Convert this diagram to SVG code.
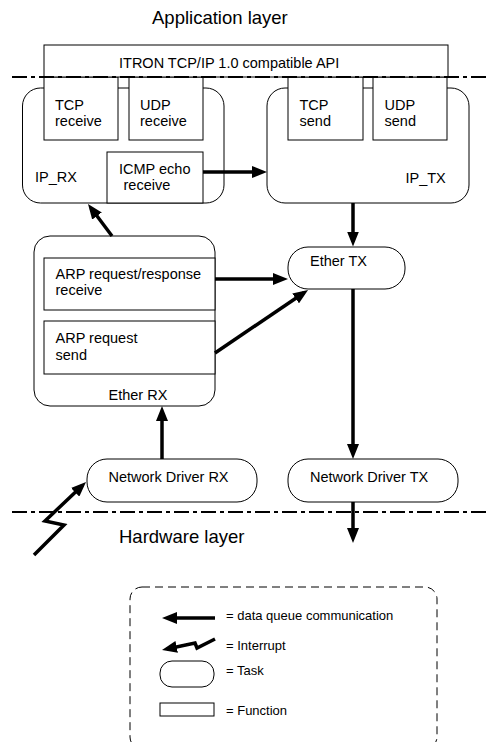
<svg xmlns="http://www.w3.org/2000/svg" width="489" height="742" viewBox="0 0 489 742">
<defs>
<style>
text{font-family:"Liberation Sans",Arial,sans-serif;fill:#000}
.n{font-size:14.5px}
.big{font-size:18.5px}
.lg{font-size:13px}
.box{fill:#fff;stroke:#000;stroke-width:1}
.task{fill:#fff;stroke:#000;stroke-width:1}
.arr{fill:none;stroke:#000;stroke-width:3.5;stroke-linejoin:miter;marker-end:url(#ah)}
.layer{fill:none;stroke:#000;stroke-width:2;stroke-dasharray:15 4 4 4}
.legend{fill:none;stroke:#000;stroke-width:1;stroke-dasharray:8 5}
</style>
<marker id="ah" markerUnits="userSpaceOnUse" markerWidth="15" markerHeight="12" refX="10" refY="6" orient="auto"><path d="M0,0 L15,6 L0,12 z" fill="#000"/></marker>
</defs>
<rect width="489" height="742" fill="#fff"/>
<text class="big" x="152" y="24">Application layer</text>

<g id="ip_rx">
<rect class="task" x="22.5" y="88" width="201.5" height="115" rx="18"/>
<text class="n" x="35" y="182">IP_RX</text>
</g>
<g id="tcp_receive">
<rect class="box" x="44" y="77" width="74" height="63"/>
<text class="n" x="55" y="109.5">TCP</text>
<text class="n" x="55" y="126">receive</text>
</g>
<g id="udp_receive">
<rect class="box" x="129" y="77" width="74" height="63"/>
<text class="n" x="140" y="109.5">UDP</text>
<text class="n" x="140" y="126">receive</text>
</g>
<g id="icmp_echo_receive">
<rect class="box" x="107" y="152" width="96" height="51"/>
<text class="n" x="119" y="173.5">ICMP echo</text>
<text class="n" x="123.5" y="190">receive</text>
</g>

<g id="ip_tx">
<rect class="task" x="267" y="88" width="202" height="115" rx="18"/>
<text class="n" x="405.5" y="182.5">IP_TX</text>
</g>
<g id="tcp_send">
<rect class="box" x="288" y="77" width="75" height="63"/>
<text class="n" x="299.5" y="109.5">TCP</text>
<text class="n" x="299.5" y="126">send</text>
</g>
<g id="udp_send">
<rect class="box" x="373" y="77" width="74" height="63"/>
<text class="n" x="384.5" y="109.5">UDP</text>
<text class="n" x="384.5" y="126">send</text>
</g>

<g id="api">
<rect class="box" x="44" y="45" width="404" height="32"/>
<text class="n" x="119" y="67.5">ITRON TCP/IP 1.0 compatible API</text>
</g>

<g id="ether_rx">
<rect class="task" x="34" y="236" width="181" height="170" rx="16"/>
<text class="n" x="108.5" y="399.5">Ether RX</text>
</g>
<g id="arp_receive">
<rect class="box" x="44" y="258" width="171" height="52"/>
<text class="n" x="55.5" y="278.5">ARP request/response</text>
<text class="n" x="55.5" y="295">receive</text>
</g>
<g id="arp_send">
<rect class="box" x="44" y="321" width="171" height="53"/>
<text class="n" x="55.5" y="343">ARP request</text>
<text class="n" x="55.5" y="360">send</text>
</g>

<g id="ether_tx">
<rect class="task" x="288" y="247" width="117" height="42" rx="20"/>
<text class="n" x="310" y="266">Ether TX</text>
</g>

<g id="net_drv_rx">
<rect class="task" x="87" y="459" width="170" height="43" rx="20"/>
<text class="n" x="108.5" y="481.5">Network Driver RX</text>
</g>
<g id="net_drv_tx">
<rect class="task" x="288" y="459" width="170" height="43" rx="20"/>
<text class="n" x="310" y="481.5">Network Driver TX</text>
</g>

<g id="layers">
<line class="layer" x1="12" y1="77" x2="489" y2="77"/>
<line class="layer" x1="12" y1="512" x2="489" y2="512"/>
</g>
<text class="big" x="119" y="543">Hardware layer</text>

<g id="connectors">
<line class="arr" x1="203" y1="172" x2="262" y2="172"/>
<line class="arr" x1="112" y1="236" x2="91" y2="208"/>
<line class="arr" x1="353" y1="203" x2="353" y2="241.5"/>
<line class="arr" x1="215" y1="279" x2="283" y2="279"/>
<line class="arr" x1="215" y1="353" x2="303.9" y2="292.8"/>
<line class="arr" x1="353" y1="289" x2="353" y2="454"/>
<line class="arr" x1="162" y1="459" x2="162" y2="411"/>
<line class="arr" x1="353" y1="502" x2="353" y2="538"/>
<polyline class="arr" points="34,555 64,525 45,521 82.4,485.4"/>
</g>

<g id="legend">
<rect class="legend" x="130" y="587" width="307" height="162" rx="12"/>
<line class="arr" x1="215" y1="618" x2="167" y2="618"/>
<text class="lg" x="226" y="619.5">= data queue communication</text>
<polyline class="arr" points="215,639 197,648 195,643 166.9,649"/>
<text class="lg" x="226" y="649.5">= Interrupt</text>
<rect class="task" x="160" y="661" width="54" height="26" rx="12"/>
<text class="lg" x="226" y="675">= Task</text>
<rect class="box" x="160" y="703" width="54" height="13"/>
<text class="lg" x="226" y="714.5">= Function</text>
</g>
</svg>
